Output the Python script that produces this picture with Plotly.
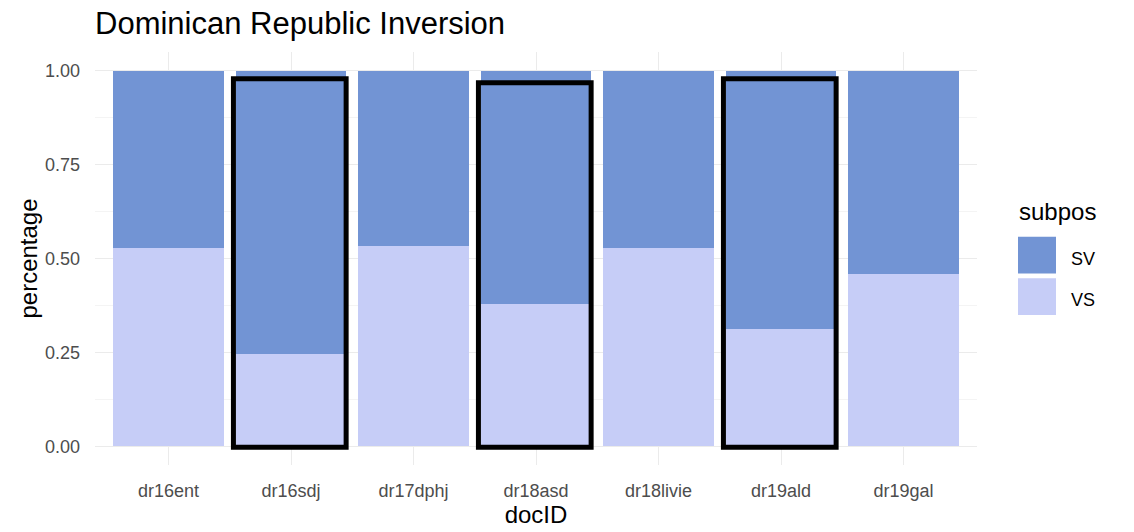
import plotly.graph_objects as go

categories = ["dr16ent", "dr16sdj", "dr17dphj", "dr18asd", "dr18livie", "dr19ald", "dr19gal"]
vs_values = [0.527, 0.246, 0.532, 0.378, 0.527, 0.312, 0.460]
sv_values = [round(1 - v, 3) for v in vs_values]
series_names = ["SV", "VS"]
series_colors = {"SV": "#7294D4", "VS": "#C6CDF7"}
highlighted = ["dr16sdj", "dr18asd", "dr19ald"]
highlight_top = [0.979, 0.968, 0.979]
y_ticks = [0.0, 0.25, 0.5, 0.75, 1.0]
y_ticklabels = ["0.00", "0.25", "0.50", "0.75", "1.00"]

FONT = "Liberation Sans, Arial, sans-serif"
W, H = 1134, 532
L, R, T, B = 95, 157, 52, 64
PW, PH = W - L - R, H - T - B


def px_x(fx):  # page pixel -> paper x
    return (fx - L) / PW


def px_y(fy):  # page pixel -> paper y
    return (H - B - fy) / PH


fig = go.Figure()
fig.add_trace(go.Bar(x=categories, y=vs_values, name="VS",
                     marker=dict(color=series_colors["VS"], line=dict(width=0)),
                     width=0.9, showlegend=False))
fig.add_trace(go.Bar(x=categories, y=sv_values, name="SV",
                     marker=dict(color=series_colors["SV"], line=dict(width=0)),
                     width=0.9, showlegend=False))

for cat, top in zip(highlighted, highlight_top):
    i = categories.index(cat)
    fig.add_shape(type="rect", xref="x", yref="y", x0=i - 0.47, x1=i + 0.45, y0=-0.003, y1=top,
                  line=dict(color="black", width=5), fillcolor="rgba(0,0,0,0)", layer="above")

# legend (ggplot-style large keys)
fig.add_annotation(text="subpos", xref="paper", yref="paper", x=px_x(1017), y=px_y(213),
                   xanchor="left", yanchor="middle", showarrow=False,
                   font=dict(size=24, color="#000000", family=FONT))
key_top = 238
for k, name in enumerate(series_names):
    y0 = key_top + k * 42
    fig.add_shape(type="rect", xref="paper", yref="paper",
                  x0=px_x(1018), x1=px_x(1056), y0=px_y(y0 + 37), y1=px_y(y0),
                  fillcolor=series_colors[name], line=dict(width=0))
    fig.add_annotation(text=name, xref="paper", yref="paper", x=px_x(1069), y=px_y(y0 + 22),
                       xanchor="left", yanchor="middle", showarrow=False,
                       font=dict(size=18, color="#000000", family=FONT))

fig.update_layout(
    barmode="stack",
    width=W, height=H,
    margin=dict(l=L, r=R, t=T, b=B),
    plot_bgcolor="white", paper_bgcolor="white",
    font=dict(family=FONT, color="#000000"),
    title=dict(text="Dominican Republic Inversion", x=L / W, xanchor="left",
               yref="container", y=1 - 23 / H, yanchor="middle",
               font=dict(size=31, color="#000000", family=FONT)),
    showlegend=False,
)
fig.update_xaxes(
    title=dict(text="docID", font=dict(size=24, color="#000000"), standoff=2),
    tickfont=dict(size=18, color="#4D4D4D"),
    showgrid=True, gridcolor="#EBEBEB", gridwidth=1.2,
    ticks="", ticklabelstandoff=13,
    range=[-0.6, 6.6], showline=False, zeroline=False,
)
fig.update_yaxes(
    title=dict(text="percentage", font=dict(size=24, color="#000000"), standoff=0),
    tickfont=dict(size=18, color="#4D4D4D"),
    tickvals=y_ticks, ticktext=y_ticklabels,
    range=[-0.05, 1.05],
    showgrid=True, gridcolor="#EBEBEB", gridwidth=1.2,
    minor=dict(tickvals=[0.125, 0.375, 0.625, 0.875], showgrid=True, gridcolor="#F4F4F4", gridwidth=1),
    ticks="", ticklabelstandoff=14, zeroline=False, showline=False,
)

fig.write_html("out.html", config={"displayModeBar": False},
               post_script="document.body.style.margin='0px';document.body.style.overflow='hidden';")
